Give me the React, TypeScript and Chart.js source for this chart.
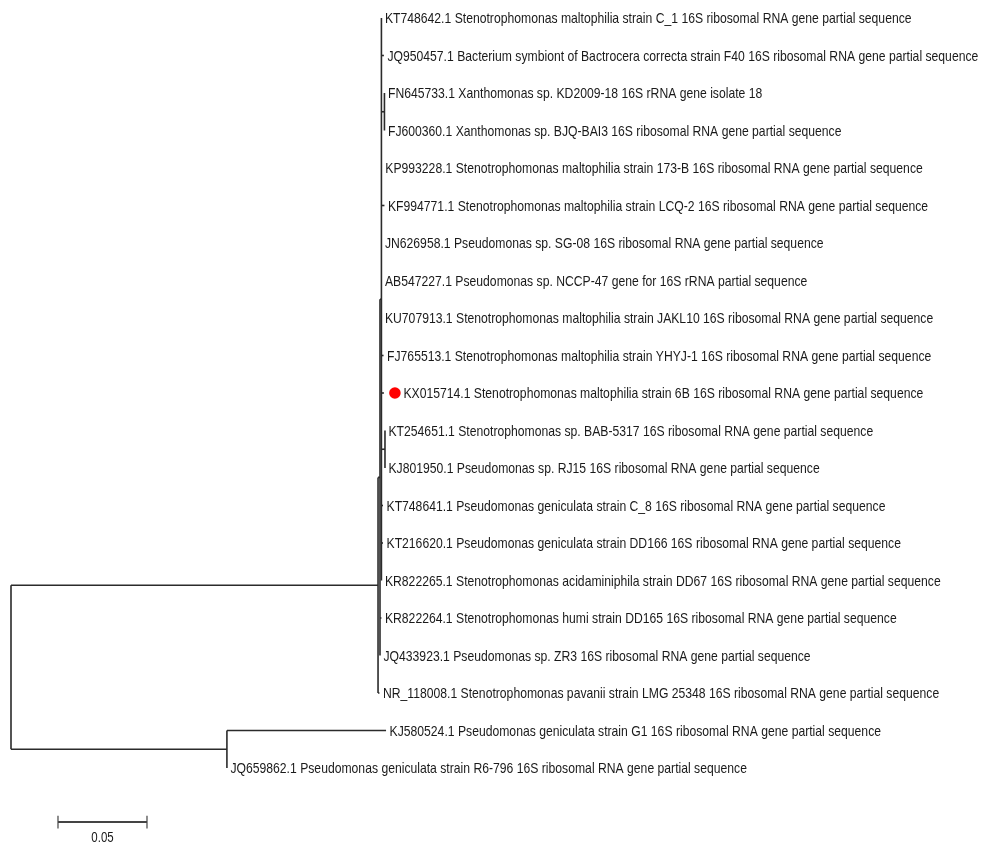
import { useEffect, useRef } from "react";
import { Chart, registerables } from "chart.js";

Chart.register(...registerables);

// Leaf labels, top to bottom
const leafNames: string[] = [
  "KT748642.1 Stenotrophomonas maltophilia strain C_1 16S ribosomal RNA gene partial sequence",
  "JQ950457.1 Bacterium symbiont of Bactrocera correcta strain F40 16S ribosomal RNA gene partial sequence",
  "FN645733.1 Xanthomonas sp. KD2009-18 16S rRNA gene isolate 18",
  "FJ600360.1 Xanthomonas sp. BJQ-BAI3 16S ribosomal RNA gene partial sequence",
  "KP993228.1 Stenotrophomonas maltophilia strain 173-B 16S ribosomal RNA gene partial sequence",
  "KF994771.1 Stenotrophomonas maltophilia strain LCQ-2 16S ribosomal RNA gene partial sequence",
  "JN626958.1 Pseudomonas sp. SG-08 16S ribosomal RNA gene partial sequence",
  "AB547227.1 Pseudomonas sp. NCCP-47 gene for 16S rRNA partial sequence",
  "KU707913.1 Stenotrophomonas maltophilia strain JAKL10 16S ribosomal RNA gene partial sequence",
  "FJ765513.1 Stenotrophomonas maltophilia strain YHYJ-1 16S ribosomal RNA gene partial sequence",
  "KX015714.1 Stenotrophomonas maltophilia strain 6B 16S ribosomal RNA gene partial sequence",
  "KT254651.1 Stenotrophomonas sp. BAB-5317 16S ribosomal RNA gene partial sequence",
  "KJ801950.1 Pseudomonas sp. RJ15 16S ribosomal RNA gene partial sequence",
  "KT748641.1 Pseudomonas geniculata strain C_8 16S ribosomal RNA gene partial sequence",
  "KT216620.1 Pseudomonas geniculata strain DD166 16S ribosomal RNA gene partial sequence",
  "KR822265.1 Stenotrophomonas acidaminiphila strain DD67 16S ribosomal RNA gene partial sequence",
  "KR822264.1 Stenotrophomonas humi strain DD165 16S ribosomal RNA gene partial sequence",
  "JQ433923.1 Pseudomonas sp. ZR3 16S ribosomal RNA gene partial sequence",
  "NR_118008.1 Stenotrophomonas pavanii strain LMG 25348 16S ribosomal RNA gene partial sequence",
  "KJ580524.1 Pseudomonas geniculata strain G1 16S ribosomal RNA gene partial sequence",
  "JQ659862.1 Pseudomonas geniculata strain R6-796 16S ribosomal RNA gene partial sequence",
];

// Distance of each leaf from the root (substitutions per site)
const leafDepth: number[] = [
  0.2081, 0.2095, 0.2098, 0.2098, 0.2083, 0.2098, 0.2081, 0.2081, 0.2081, 0.2093,
  0.2095, 0.2101, 0.2101, 0.209, 0.209, 0.2081, 0.2081, 0.2073, 0.207, 0.2107, 0.1213,
];

// Internal nodes: distance from root and children ("L#" leaf, "N#" node)
const nodeDepth: number[] = [0, 0.2062, 0.2073, 0.2081, 0.2098, 0.2101, 0.1213];
const nodeChildren: string[][] = [
  ["N1", "N6"],
  ["N2", "L18"],
  ["N3", "L16", "L17"],
  ["L0", "L1", "N4", "L4", "L5", "L6", "L7", "L8", "L9", "L10", "N5", "L13", "L14", "L15"],
  ["L2", "L3"],
  ["L11", "L12"],
  ["L19", "L20"],
];

const highlightedLeaf = 10;
const scaleBarStart = 0.0264;
const scaleBarLength = 0.05;
const scaleBarLabel = "0.05";
const scaleBarRow = 21.44;

const LINE_COLOR = "#2b2b2b";
const TEXT_COLOR = "#1a1a1a";

function yOf(ref: string): number {
  const k = parseInt(ref.slice(1), 10);
  if (ref[0] === "L") return k;
  const ch = nodeChildren[k];
  return (yOf(ch[0]) + yOf(ch[ch.length - 1])) / 2;
}
function depthOf(ref: string): number {
  const k = parseInt(ref.slice(1), 10);
  return ref[0] === "L" ? leafDepth[k] : nodeDepth[k];
}

export default function App() {
  const ref = useRef<HTMLCanvasElement | null>(null);

  useEffect(() => {
    const canvas = ref.current;
    if (!canvas) return;
    const ctx0 = canvas.getContext("2d")!;
    ctx0.font = '16px "Liberation Sans Narrow", monospace';
    const w1 = ctx0.measureText("abcdefghijKLMN").width;
    ctx0.font = "16px monospace";
    const w2 = ctx0.measureText("abcdefghijKLMN").width;
    const hasNarrow = Math.abs(w1 - w2) > 0.5;
    const family = hasNarrow ? '"Liberation Sans Narrow"' : '"Liberation Sans", Arial';
    const sx = hasNarrow ? 1 : 0.82;

    const segments: { x: number; y: number }[][] = [];
    nodeChildren.forEach((ch, k) => {
      const d = nodeDepth[k];
      segments.push([
        { x: d, y: yOf(ch[0]) },
        { x: d, y: yOf(ch[ch.length - 1]) },
      ]);
      ch.forEach((c) => {
        const cd = depthOf(c);
        if (cd > d) segments.push([{ x: d, y: yOf(c) }, { x: cd, y: yOf(c) }]);
      });
    });

    const datasets: any[] = segments.map((s) => ({
      data: s,
      showLine: true,
      borderColor: LINE_COLOR,
      borderWidth: 1.6,
      pointRadius: 0,
      fill: false,
    }));
    // scale bar
    datasets.push({
      data: [
        { x: scaleBarStart, y: scaleBarRow },
        { x: scaleBarStart + scaleBarLength, y: scaleBarRow },
      ],
      showLine: true,
      borderColor: "#444",
      borderWidth: 2,
      pointRadius: 0,
    });
    [scaleBarStart, scaleBarStart + scaleBarLength].forEach((x) =>
      datasets.push({
        data: [
          { x, y: scaleBarRow - 0.17 },
          { x, y: scaleBarRow + 0.17 },
        ],
        showLine: true,
        borderColor: "#444",
        borderWidth: 1.2,
        pointRadius: 0,
      })
    );

    const labelPlugin = {
      id: "treeLabels",
      afterDatasetsDraw(chart: any) {
        const ctx = chart.ctx;
        const xs = chart.scales.x;
        const ys = chart.scales.y;
        ctx.save();
        ctx.fillStyle = TEXT_COLOR;
        ctx.textBaseline = "middle";
        ctx.textAlign = "left";
        ctx.font = `15px ${family}`;
        leafNames.forEach((name, i) => {
          let x = xs.getPixelForValue(leafDepth[i]) + 3.5;
          const y = ys.getPixelForValue(i);
          if (i === highlightedLeaf) {
            ctx.save();
            ctx.fillStyle = "#ff0000";
            ctx.beginPath();
            ctx.arc(x + 7.5, y, 5.8, 0, Math.PI * 2);
            ctx.fill();
            ctx.restore();
            x += 16;
          }
          ctx.save();
          ctx.translate(x, y + 1);
          ctx.scale(sx * 0.99, 1);
          ctx.fillText(name, 0, 0);
          ctx.restore();
        });
        // scale bar label
        ctx.font = `14px ${family}`;
        ctx.textAlign = "center";
        const cx = xs.getPixelForValue(scaleBarStart + scaleBarLength / 2);
        const cy = ys.getPixelForValue(scaleBarRow) + 16;
        ctx.save();
        ctx.translate(cx, cy);
        ctx.scale(sx, 1);
        ctx.fillText(scaleBarLabel, 0, 0);
        ctx.restore();
        ctx.restore();
      },
    };

    const chart = new Chart(canvas, {
      type: "scatter",
      data: { datasets },
      options: {
        responsive: false,
        maintainAspectRatio: false,
        animation: false,
        events: [],
        layout: { padding: 0 },
        plugins: { legend: { display: false }, tooltip: { enabled: false } },
        scales: {
          x: { type: "linear", display: false, min: -11 / 1780, max: 972 / 1780 },
          y: { type: "linear", display: false, min: -18 / 37.5, max: 830 / 37.5, reverse: true },
        },
      },
      plugins: [labelPlugin],
    });
    return () => chart.destroy();
  }, []);

  return (
    <div style={{ position: "absolute", left: 0, top: 0, width: 983, height: 848, background: "#fff" }}>
      <canvas ref={ref} width={983} height={848} style={{ display: "block" }} />
    </div>
  );
}
